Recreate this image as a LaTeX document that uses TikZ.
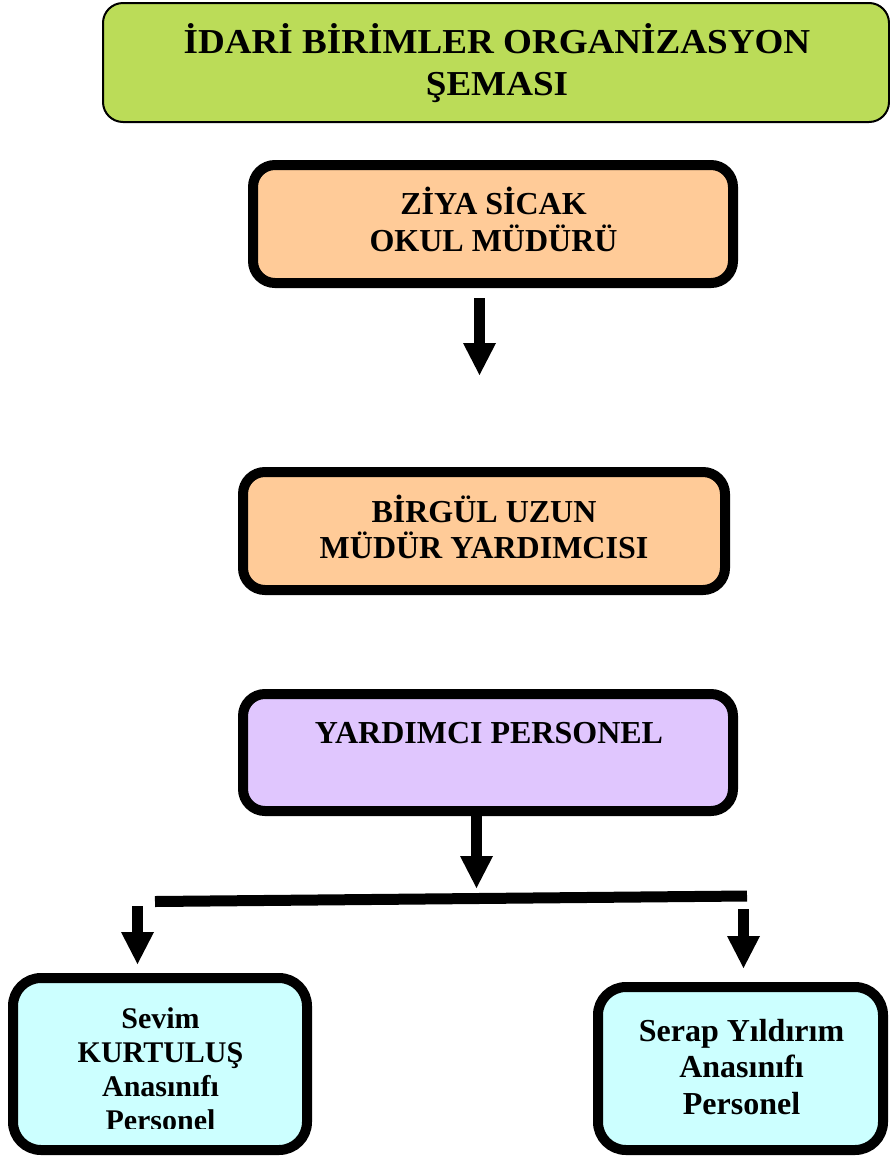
\documentclass[tikz,border=0pt]{standalone}
\usepackage{fontspec}
\setmainfont{Liberation Serif}
\usepackage{graphicx}
\usetikzlibrary{arrows.meta,calc}
\definecolor{titlegreen}{HTML}{BBDC58}
\definecolor{boxorange}{HTML}{FFCB98}
\definecolor{boxpurple}{HTML}{E0C6FE}
\definecolor{boxcyan}{HTML}{CCFFFF}
\newcommand\stacklines[2]{\vtop{\lineskiplimit=-100pt\baselineskip=#1\halign{\hfil##\hfil\cr#2\crcr}}}
\begin{document}
\begin{tikzpicture}[x=1pt,y=-1pt,
  box/.style={draw, line width=10pt, rounded corners=22pt, inner sep=0pt},
  bigbox/.style={box, rounded corners=28pt},
  titlebox/.style={draw, line width=2pt, rounded corners=20pt, fill=titlegreen, inner sep=0pt},
  lbl/.style={anchor=base, inner sep=0pt, font=\bfseries\fontsize{32}{37}\selectfont},
  blockarrow/.style={line width=11pt, line cap=butt, -{Triangle[width=33pt,length=32pt,line width=0pt]}},
  barline/.style={line width=11pt, line cap=butt}]
\useasboundingbox (0,0) rectangle (890,1157);
% boxes
\node[titlebox, minimum width=786pt, minimum height=119pt] (title) at (496,62.5) {};
\node[box, fill=boxorange, minimum width=480pt, minimum height=118pt] (b1) at (493,224) {};
\node[box, fill=boxorange, minimum width=482pt, minimum height=118pt] (b2) at (484,531) {};
\node[box, fill=boxpurple, minimum width=490pt, minimum height=117pt] (b3) at (488,752.5) {};
\node[bigbox, fill=boxcyan, minimum width=294pt, minimum height=172pt] (bl) at (160,1064) {};
\node[bigbox, fill=boxcyan, minimum width=285pt, minimum height=163pt] (br) at (740.5,1068.5) {};
% texts
\node[lbl, font=\bfseries\fontsize{35}{42}\selectfont] (titletext) at (497,53)
  {\scalebox{1.06}[1]{\stacklines{42pt}{İDARİ BİRİMLER ORGANİZASYON\cr ŞEMASI}}};
\node[lbl] (t1) at (493.5,214) {\stacklines{37pt}{ZİYA SİCAK\cr OKUL MÜDÜRÜ}};
\node[lbl] (t2) at (484,522) {\stacklines{36.5pt}{BİRGÜL UZUN\cr MÜDÜR YARDIMCISI}};
\node[lbl] (t3) at (489,743) {YARDIMCI PERSONEL};
\begin{scope}
  \clip (15,978) rectangle (305,1128);
  \node[lbl, font=\bfseries\fontsize{30}{34}\selectfont] (tl) at (160.5,1028)
    {\stacklines{34.3pt}{Sevim\cr KURTULUŞ\cr Anasınıfı\cr Personel}};
\end{scope}
\node[lbl] (tr) at (741.5,1041) {\stacklines{36.5pt}{Serap Yıldırım\cr Anasınıfı\cr Personel}};
% connectors
\coordinate (a1s) at ($(b1.south)+(-13.5,10)$);
\coordinate (a1e) at (479.5,375);
\draw[blockarrow] (a1s) -- (a1e);
\coordinate (a2e) at (476.5,888);
\draw[blockarrow] ($(b3.south)+(-11.5,0)$) -- (a2e);
\coordinate (barL) at (155,901.5);
\coordinate (barR) at (747,896);
\draw[barline] (barL) -- (barR);
\coordinate (a3s) at (137.5,906);
\draw[blockarrow] (a3s) -- ($(bl.north -| a3s)+(0,-9)$);
\coordinate (a4s) at (743.5,909);
\draw[blockarrow] (a4s) -- ($(br.north -| a4s)+(0,-14)$);
\end{tikzpicture}
\end{document}
